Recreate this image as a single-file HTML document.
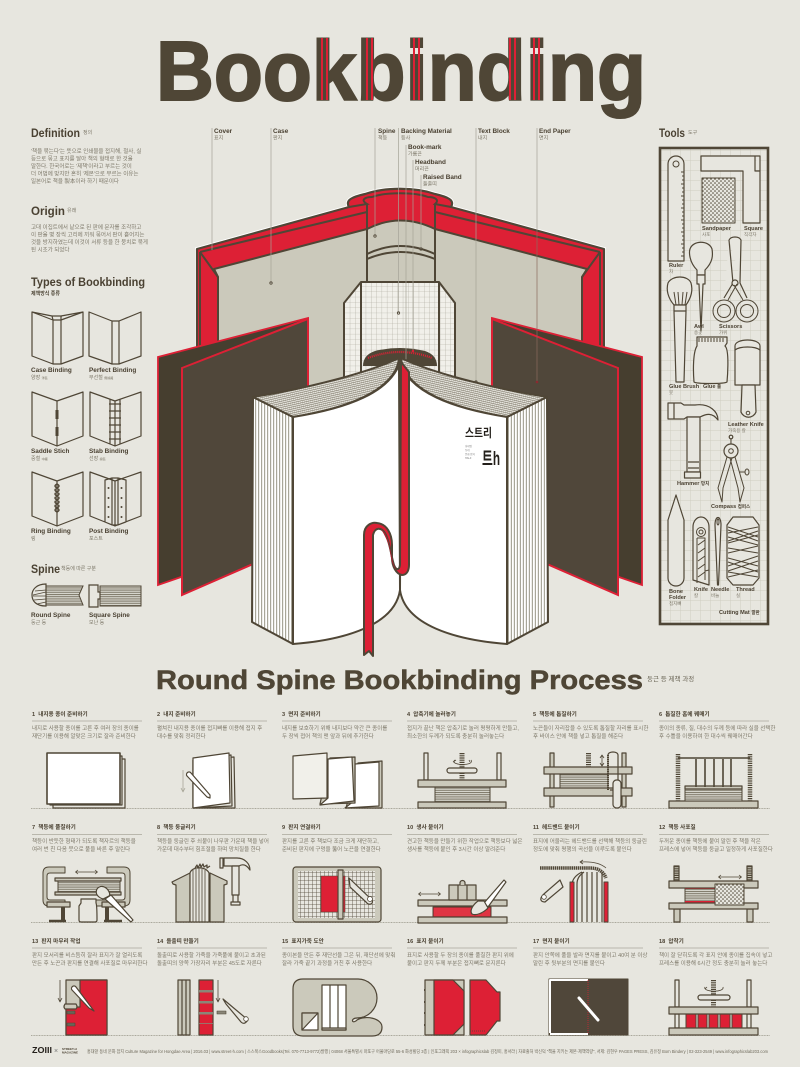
<!DOCTYPE html>
<html><head><meta charset="utf-8"><title>Bookbinding</title>
<style>
html,body{margin:0;padding:0;background:#e7e6df}
svg{display:block}
text{font-family:"Liberation Sans","Noto Sans CJK KR",sans-serif;fill:#4a4132}
.h{font-weight:700;font-size:12px}
.l{font-weight:700;font-size:6.4px}
.k{font-size:5px;fill:#7d7869}
.b{font-size:5.5px;fill:#7d7869}
.t{font-weight:700;font-size:5.6px;fill:#4a4132}
.s{stroke:#4f4636;stroke-width:1.2;fill:none}
.f{stroke:#4f4636;stroke-width:1.2;fill:#e7e6df}
.g{stroke:#4f4636;stroke-width:1.2;fill:#cbc9bb}
.w{stroke:#4f4636;stroke-width:1.2;fill:#fff}
.r{stroke:#4f4636;stroke-width:1.2;fill:#dd2035}
.d{fill:#4f4636;stroke:none}
.m{stroke:#4f4636;stroke-width:2;fill:none}
.u{stroke:#a9a799;stroke-width:.8;fill:none}
.ld{stroke:#a5a397;stroke-width:.7;fill:none}
.o{stroke:#4f4636;stroke-width:.8;fill:none}
</style></head><body>
<svg xmlns="http://www.w3.org/2000/svg" width="800" height="1067" viewBox="0 0 800 1067">
<defs>
<pattern id="fore" width="3" height="10" patternUnits="userSpaceOnUse"><rect width="3" height="10" fill="#fff"/><rect width="1.2" height="10" fill="#a8a699"/></pattern>
<pattern id="hatch" width="2" height="2" patternUnits="userSpaceOnUse" patternTransform="rotate(-13)"><rect width="2" height="2" fill="#e6e5de"/><rect width="2" height=".5" fill="#6d6656"/><rect width=".25" height="2" fill="#8a8474"/></pattern>
<pattern id="grid" width="5.3" height="5.3" patternUnits="userSpaceOnUse"><rect width="5.3" height="5.3" fill="#f1f0ea"/><path d="M0 0H5.3M0 0V5.3" stroke="#a9a79b" stroke-width=".6"/></pattern>
<pattern id="mat" width="10" height="10" patternUnits="userSpaceOnUse"><rect width="10" height="10" fill="#e7e6df"/><path d="M0 0H10M0 0V10" stroke="#cfcdc2" stroke-width="1"/></pattern>
<pattern id="dots" width="4" height="4" patternUnits="userSpaceOnUse"><rect width="4" height="4" fill="#e7e6df"/><circle cx="1" cy="1" r=".8" fill="#4f4636"/><circle cx="3" cy="3" r=".8" fill="#4f4636"/></pattern>
<pattern id="lines" width="4" height="2.2" patternUnits="userSpaceOnUse"><rect width="4" height="2.2" fill="#d9d8cf"/><rect width="4" height="1" fill="#7c7667"/></pattern>
<pattern id="mini" width="4" height="4" patternUnits="userSpaceOnUse"><rect width="4" height="4" fill="#e7e6df"/><path d="M0 0H4M0 0V4" stroke="#4f4636" stroke-width=".8"/></pattern>
<pattern id="redd" width="2" height="2" patternUnits="userSpaceOnUse"><rect width="2" height="2" fill="#dd2035"/><circle cx="1" cy="1" r=".45" fill="#e98"/></pattern>

<g id="leaves">
<path d="M158,357 L308,318 L308,500 L181,577 L158,585 Z" fill="#463e2f" stroke="#dd2035" stroke-width="1.8"/>
<path d="M182,368 L308,319 L308,540 L182,595 Z" fill="#50473a" stroke="#dd2035" stroke-width="2"/>
</g>
<g id="page">
<path d="M253,397 L293,417 L293,644 L252,622 Z" fill="url(#fore)" stroke="#4f4636" stroke-width="2" stroke-linejoin="round"/>
<path d="M253,397 C310,388 370,372 399,358 C398,372 385,402 293,417 Z" fill="url(#hatch)" stroke="#4f4636" stroke-width="2" stroke-linejoin="round"/>
<path d="M293,417 C350,408 388,392 399,365 L400,590 C395,625 345,640 293,644 Z" fill="#fff" stroke="#4f4636" stroke-width="2" stroke-linejoin="round"/>
</g>
</defs>

<rect width="800" height="1067" fill="#e7e6df"/>

<!-- TITLE -->
<text x="156" y="100" textLength="490" lengthAdjust="spacingAndGlyphs" style="font-size:84px;font-weight:700;stroke:#4f4636;stroke-width:2;fill:#4f4636">Bookbinding</text>
<g fill="#dd2035">
<rect x="321" y="38" width="2" height="62"/><rect x="326" y="38" width="2" height="62"/>
<rect x="366" y="38" width="2" height="62"/><rect x="371" y="38" width="2" height="62"/>
<rect x="413" y="38" width="2" height="62"/><rect x="418" y="38" width="2" height="62"/>
<rect x="509" y="38" width="2" height="62"/><rect x="514" y="38" width="2" height="62"/>
<rect x="533" y="38" width="2" height="62"/><rect x="538" y="38" width="2" height="62"/>
</g>

<!-- LEFT COLUMN -->
<text class="h" x="31" y="137" textLength="49" lengthAdjust="spacingAndGlyphs">Definition</text><text class="k" x="83" y="134">정의</text>
<g class="tx">
<text class="b" x="31" y="153">'책을 묶는다'는 뜻으로 인쇄물을 접지해, 철사, 실</text>
<text class="b" x="31" y="160.5">등으로 묶고 표지를 달아 책의 형태로 한 것을</text>
<text class="b" x="31" y="168">말한다. 한국어로는 '제책'이라고 부르는 것이</text>
<text class="b" x="31" y="175.5">더 어법에 맞지만 흔히 '제본'으로 부르는 이유는</text>
<text class="b" x="31" y="183">일본어로 책을 製本이라 하기 때문이다</text>
</g>
<text class="h" x="31" y="215" textLength="34" lengthAdjust="spacingAndGlyphs">Origin</text><text class="k" x="67" y="212">유래</text>
<text class="b" x="31" y="229">고대 이집트에서 낱으로 된 판에 문자를 조각하고</text>
<text class="b" x="31" y="236.5">이 판을 몇 장씩 고리에 끼워 묶어서 판이 흩어지는</text>
<text class="b" x="31" y="244">것을 방지하였는데 이것이 서류 등을 한 뭉치로 묶게</text>
<text class="b" x="31" y="251.5">된 시초가 되었다</text>
<text class="h" x="31" y="286" textLength="114" lengthAdjust="spacingAndGlyphs">Types of Bookbinding</text>
<text class="k" x="31" y="295" style="font-weight:700;fill:#4a4132">제책방식 종류</text>

<!-- binding types -->
<g class="s" stroke-linejoin="round">
<path d="M32,312 L53,320 V364 L32,356 Z M61,320 L83,312 V356 L61,364 Z M53,320 H61 V364 H53 Z M32,312 L52,316 L53,320 M83,312 L61,316 L61,320 M52,316 H62"/>
<path d="M89,312 L112,321 V364 L89,356 Z M119,321 L141,312 V356 L119,364 Z M112,321 H119 V364 H112 Z"/>
<path d="M32,392 L57,401 V446 L32,436 Z M57,401 L83,392 V436 L57,446 Z"/>
<path d="M90,392 L115,401 V446 L90,436 Z M115,401 L141,392 V436 L115,446 Z M110,399 V444 M120,399 V444 M109,404 H121 M109,411 H121 M109,418 H121 M109,425 H121 M109,432 H121 M109,439 H121"/>
<path d="M32,472 L57,481 V526 L32,516 Z M57,481 L83,472 V516 L57,526 Z"/>
<path d="M57,484 q-4,2 0,4 q4,2 0,4 q-4,2 0,4 q4,2 0,4 q-4,2 0,4 q4,2 0,4 q-4,2 0,4 M57,484 q4,2 0,4 q-4,2 0,4 q4,2 0,4 q-4,2 0,4 q4,2 0,4 q-4,2 0,4 q4,2 0,4" stroke-width="1.4"/>
<path d="M90,472 L115,481 V526 L90,516 Z M115,481 L141,472 V516 L115,526 Z M105,480 L112,478 V525 L105,522 Z M118,478 L126,480 V522 L118,525 Z M112,478 H118 V525 H112"/>
</g>
<g class="d"><rect x="55.5" y="410" width="3" height="9"/><rect x="55.5" y="427" width="3" height="9"/>
<circle cx="108.5" cy="488" r="1"/><circle cx="121.5" cy="488" r="1"/><circle cx="108.5" cy="498" r="1"/><circle cx="121.5" cy="498" r="1"/><circle cx="108.5" cy="507" r="1"/><circle cx="121.5" cy="507" r="1"/><circle cx="108.5" cy="517" r="1"/><circle cx="121.5" cy="517" r="1"/></g>
<text class="l" x="31" y="372">Case Binding</text><text class="k" x="31" y="379">양장 <tspan font-size="3">洋裝</tspan></text>
<text class="l" x="89" y="372">Perfect Binding</text><text class="k" x="89" y="379">무선철 <tspan font-size="3">無線綴</tspan></text>
<text class="l" x="31" y="453">Saddle Stich</text><text class="k" x="31" y="460">중철 <tspan font-size="3">中綴</tspan></text>
<text class="l" x="89" y="453">Stab Binding</text><text class="k" x="89" y="460">선장 <tspan font-size="3">線裝</tspan></text>
<text class="l" x="31" y="533">Ring Binding</text><text class="k" x="31" y="540">링</text>
<text class="l" x="89" y="533">Post Binding</text><text class="k" x="89" y="540">포스트</text>
<text class="h" x="31" y="573" textLength="29" lengthAdjust="spacingAndGlyphs">Spine</text><text class="k" x="61" y="570">책등에 따른 구분</text>
<!-- spines -->
<path d="M46,586 H83 L79,595 L83,605 H46 Z" fill="url(#lines)" stroke="#4f4636" stroke-width="1"/>
<path d="M46,584 C36,584 32,590 32,595 C32,601 36,606 46,606 Z" fill="#e7e6df" stroke="#4f4636" stroke-width="1.2"/>
<path class="o" d="M46,590 L35,591 M46,592 L33,595 M46,596 H33 M46,599 L34,600 M46,602 L37,604"/>
<path d="M100,586 H141 V606 H100 Z" fill="url(#lines)" stroke="#4f4636" stroke-width="1"/>
<path class="f" d="M89,585 H98 V592 H100 V599 H98 V607 H89 Z"/>
<text class="l" x="31" y="617">Round Spine</text><text class="k" x="31" y="624">둥근 등</text>
<text class="l" x="89" y="617">Square Spine</text><text class="k" x="89" y="624">모난 등</text>

<!-- MAIN BOOK: back case -->
<path d="M197,249 L349,207 C345,200 352,197 365,194 C385,187 415,187 435,194 C448,197 455,200 451,207 L604,249 V392 H197 Z" fill="none" stroke="#fff" stroke-width="4"/>
<path d="M197,249 L349,207 C345,200 352,197 365,194 C385,187 415,187 435,194 C448,197 455,200 451,207 L604,249 V392 H197 Z" fill="#dd2035" stroke="#4f4636" stroke-width="2.2" stroke-linejoin="round"/>
<path d="M218,392 V277 L214,269 L367,229 Q400,212 435,229 L587,269 L582,277 V392 Z" fill="#cbc9bb" stroke="#4f4636" stroke-width="2" stroke-linejoin="round"/>
<path class="m" d="M200,252 V392 M600,252 V392 M200,252 L367,212 M600,252 L435,212 M200,252 L218,277 M600,252 L582,277"/>
<path class="m" d="M349,207 L367,204 C360,200 365,197 372,197 C385,192 415,192 428,197 C435,197 440,200 435,204 L451,207"/>
<path class="m" d="M367,204 V282 M435,204 V282"/>
<path class="m" d="M367,254 Q400,238 435,254 M367,259 Q400,245 435,259"/>

<path d="M344,303 L361,282 H439 L455,303 V392 H344 Z" fill="url(#grid)" stroke="#4f4636" stroke-width="2" stroke-linejoin="round"/>
<path class="m" d="M361,282 V372 M439,282 V372"/>
<path d="M363,366 Q363,355 375,351 Q400,345 425,351 Q437,355 437,366 Z" fill="#4f4636"/>
<path d="M368,358 Q400,346 432,358" fill="none" stroke="#dd2035" stroke-width="2.2" stroke-dasharray="1 1"/>

<use href="#leaves"/>
<use href="#leaves" transform="translate(800,0) scale(-1,1)"/>

<!-- leaders -->
<g class="ld">
<path d="M212,128 V250 M271,128 V283 M375,128 V236 M398.5,128 V313 M406,145 V379 M413,160 V351 M421,175 V249 M476,128 V382"/>
<path d="M537,128 V230"/>
</g>
<path d="M537,230 V382" stroke="#8c6a5e" stroke-width=".7" fill="none"/>
<g fill="none" stroke="#4f4636" stroke-width=".8"><circle cx="271" cy="283" r="1.2"/><circle cx="375" cy="236" r="1.2"/><circle cx="398.5" cy="313" r="1.2"/><circle cx="421" cy="249" r="1.2"/><circle cx="476" cy="382" r="1.2"/></g>
<circle cx="537" cy="382" r="1.3" fill="#8a2a30"/><circle cx="413" cy="351" r="1.2" fill="#dd2035"/>

<!-- part labels -->
<text class="l" x="214" y="133">Cover</text><text class="k" x="214" y="139.5">표지</text>
<text class="l" x="273" y="133">Case</text><text class="k" x="273" y="139.5">판지</text>
<text class="l" x="378" y="133">Spine</text><text class="k" x="378" y="139.5">책등</text>
<text class="l" x="401" y="133">Backing Material</text><text class="k" x="401" y="139.5">등사</text>
<text class="l" x="408" y="149">Book-mark</text><text class="k" x="408" y="155.5">가름끈</text>
<text class="l" x="415" y="164">Headband</text><text class="k" x="415" y="170.5">머리끈</text>
<text class="l" x="423" y="179">Raised Band</text><text class="k" x="423" y="185.5">돌출띠</text>
<text class="l" x="478" y="133">Text Block</text><text class="k" x="478" y="139.5">내지</text>
<text class="l" x="539" y="133">End Paper</text><text class="k" x="539" y="139.5">면지</text>

<!-- text block -->
<use href="#page"/>
<use href="#page" transform="translate(800,0) scale(-1,1)"/>
<path d="M400,358 L400,590" stroke="#4f4636" stroke-width="2"/>
<!-- ribbon -->
<path d="M364,655 V535 C364,525 372,522 377,523 C387,524 392,534 392,545 V558 C392,566 396,574 402,575 C407,575 409,570 409,565 V372 L401,362 L400,565 C399,571 396,570 394,565 C391,556 390,542 385,533 C381,527 375,527 373,535 V656 L369,651 Z" fill="#dd2035" stroke="#4f4636" stroke-width="2" stroke-linejoin="round"/>
<path d="M385,533 C390,542 391,556 394,565 L396,570 C393,566 391,560 390,552 C389,543 385,536 381,529 Z" fill="#a82130"/>
<!-- logo on page -->
<text x="465" y="437" style="font-size:12px;font-weight:700;fill:#231f1a" textLength="27" lengthAdjust="spacingAndGlyphs">스트리</text>
<text x="482" y="465" style="font-size:19px;font-weight:700;fill:#231f1a" textLength="18" lengthAdjust="spacingAndGlyphs">트h</text>
<g style="font-size:2.5px"><text x="465" y="447" style="fill:#777">홍대앞</text><text x="465" y="451" style="fill:#777">동네</text><text x="465" y="455" style="fill:#777">문화 잡지</text><text x="465" y="459" style="fill:#777">HALF</text></g>

<!-- TOOLS -->
<text class="h" x="659" y="137" textLength="26" lengthAdjust="spacingAndGlyphs" style="font-size:12px">Tools</text><text class="k" x="688" y="134">도구</text>
<rect x="660" y="148" width="108" height="476" fill="url(#mat)" stroke="#4f4636" stroke-width="2.6"/>
<g class="s" stroke-linejoin="round" style="stroke-width:1">
<path class="f" d="M668,164 a8,8 0 0 1 16,0 V261 H668 Z"/><circle cx="676" cy="164" r="3"/>
<path d="M684,172 h-3 M684,176 h-2 M684,180 h-2 M684,184 h-3 M684,188 h-2 M684,192 h-2 M684,196 h-3 M684,200 h-2 M684,204 h-2 M684,208 h-3 M684,212 h-2 M684,216 h-2 M684,220 h-3 M684,224 h-2 M684,228 h-2 M684,232 h-3 M684,236 h-2 M684,240 h-2 M684,244 h-3 M684,248 h-2 M684,252 h-2 M684,256 h-3"/>
<path class="f" d="M701,156 H760 V223 H743 V171 H701 Z M755,156 V171 H760"/>
<rect x="702" y="178" width="33" height="45" fill="url(#dots)"/>
<path class="f" d="M697,275 V270 C689,262 689,252 690,249 C693,240 709,240 712,249 C713,255 713,262 705,270 V275 Z"/>
<path class="f" d="M697,275 H705 V284 H703 L701,331 L699,284 H697 Z"/>
<path class="f" d="M729,240 C731,236 739,236 741,240 L740,283 L747,298 M729,240 L733,283 L724,298"/>
<circle class="f" cx="735" cy="283" r="3"/>
<circle cx="724" cy="311" r="11"/><circle cx="724" cy="311" r="6.5"/><circle cx="747" cy="311" r="11"/><circle cx="747" cy="311" r="6.5"/>
<path d="M728,300 L737,284 M743,300 L734,285"/>
<path class="f" d="M674,305 C668,298 666,290 668,283 C672,275 688,275 691,283 C693,290 691,298 686,305 Z"/>
<path d="M676,305 L674,292 M679,305 L678,292 M682,305 L683,292 M685,305 L687,292"/>
<path class="f" d="M674,305 H686 V311 L684,382 H676 L674,311 Z M674,311 H686"/>
<path class="f" d="M697,343 V337 H727 V343 L725,346 C730,350 727,382 727,382 C724,384 697,384 694,382 C693,370 693,352 697,346 Z"/>
<path d="M699,338 V342 M702,338 V342 M705,338 V342 M708,338 V342 M711,338 V342 M714,338 V342 M717,338 V342 M720,338 V342 M723,338 V342"/>
<path class="f" d="M735,385 V346 C735,338 760,338 760,346 V385 Z M735,350 C740,346 755,346 760,350"/>
<path class="f" d="M742,385 H755 L756,412 A8,8 0 0 1 741,412 Z"/><circle cx="748" cy="413" r="1.8"/>
<path class="f" d="M668,403 H681 L684,405 H695 C710,403 718,412 718,420 C712,412 706,414 700,417 H687 L684,419 H668 Z M674,403 V419"/>
<path class="f" d="M687,417 H700 V472 H687 Z M688,462 H699 M688,468 H699"/>
<rect class="f" x="684.500" y="472" width="16" height="6"/>
<circle class="f" cx="731" cy="437" r="1.8"/><path d="M731,439 V444"/>
<circle class="f" cx="731" cy="451" r="7"/><circle cx="731" cy="451" r="2.3"/>
<path d="M727,457 L718,488 L722,502 L723,488 L732,458 M735,457 L744,488 L740,502 L738,488 L730,458"/>
<path d="M739,472 H745"/><ellipse cx="747" cy="472" rx="2" ry="3"/>
<path class="f" d="M668,520 L676,495 L684,520 V578 A8,8 0 0 1 668,578 Z"/>
<path class="f" d="M693,527 a8,10 0 0 1 16,0 V585 L693,580 Z"/>
<circle cx="701" cy="532" r="4.5"/><circle cx="701" cy="532" r="2"/>
<path d="M697,538 H705 V580 M697,538 V583 M698,545 L705,540 M698,553 L705,548 M698,561 L705,556 M698,569 L705,564 M698,577 L705,572 M705,571 L709,570"/>
<path class="f" d="M715,525 C715,515 721,515 721,525 L718.500,585 H717.500 Z"/><ellipse cx="718" cy="522" rx="1" ry="3"/>
<path class="f" d="M733,517 H753 L759,525 V578 L753,585 H733 L727,578 V525 Z"/>
<path d="M728,527 L758,537 M728,533 L758,527 M728,537 L758,545 M728,543 L758,535 M728,548 L758,553 M728,553 L758,546 M728,558 L758,566 M728,566 L758,556 M728,572 L758,577 M728,577 L758,570 M728,530 L758,541 M728,541 L758,531 M728,562 L758,572 M728,571 L758,561"/>
</g>
<g>
<text class="t" x="702" y="230">Sandpaper</text><text class="k" x="702" y="236" style="font-size:4.5px">사포</text>
<text class="t" x="744" y="230">Square</text><text class="k" x="744" y="236" style="font-size:4.5px">직각자</text>
<text class="t" x="669" y="267">Ruler</text><text class="k" x="669" y="273" style="font-size:4.5px">자</text>
<text class="t" x="694" y="328">Awl</text><text class="k" x="694" y="334" style="font-size:4.5px">송곳</text>
<text class="t" x="719" y="328">Scissors</text><text class="k" x="719" y="334" style="font-size:4.5px">가위</text>
<text class="t" x="669" y="388">Glue Brush</text><text class="k" x="669" y="394" style="font-size:4.5px">붓</text>
<text class="t" x="703" y="388">Glue <tspan font-size="4.5">풀</tspan></text>
<text class="t" x="728" y="426">Leather Knife</text><text class="k" x="728" y="432" style="font-size:4.5px">가죽용 칼</text>
<text class="t" x="677" y="485">Hammer <tspan font-size="4.500">망치</tspan></text>
<text class="t" x="711" y="508">Compass <tspan font-size="4.500">컴퍼스</tspan></text>
<text class="t" x="669" y="593">Bone</text><text class="t" x="669" y="599">Folder</text><text class="k" x="669" y="605" style="font-size:4.5px">접지뼈</text>
<text class="t" x="694" y="591">Knife</text><text class="k" x="694" y="597" style="font-size:4.5px">칼</text>
<text class="t" x="711" y="591">Needle</text><text class="k" x="711" y="597" style="font-size:4.5px">바늘</text>
<text class="t" x="736" y="591">Thread</text><text class="k" x="736" y="597" style="font-size:4.5px">실</text>
<text class="t" x="719" y="614">Cutting Mat <tspan font-size="4.500">깔판</tspan></text>
</g>

<!-- PROCESS HEADING -->
<text x="156" y="689" textLength="487" lengthAdjust="spacingAndGlyphs" style="font-size:27px;font-weight:700;fill:#4f4636;stroke:#4f4636;stroke-width:.5">Round Spine Bookbinding Process</text>
<text x="647" y="681" style="font-size:6.5px;fill:#6e695a">둥근 등 제책 과정</text>

<!-- STEP TEXT -->
<g id="steps">
<g stroke="#aaa89c" stroke-width=".8">
<path d="M32,721H142M157,721H267M282,721H392M407,721H517M533,721H643M659,721H769"/>
<path d="M32,834.500H142M157,834.500H267M282,834.500H392M407,834.500H517M533,834.500H643M659,834.500H769"/>
<path d="M32,948H142M157,948H267M282,948H392M407,948H517M533,948H643M659,948H769"/>
</g>
<path d="M31,808.500H770M31,922.500H770M31,1035.500H770" stroke="#aaa89c" stroke-width="1" stroke-dasharray="1 .6"/>

<text class="t" x="32" y="716">1 &nbsp;내지용 종이 준비하기</text>
<text class="b" x="32" y="730">내지로 사용할 종이를 고른 후 여러 장의 종이를</text>
<text class="b" x="32" y="738">재단기를 이용해 알맞은 크기로 잘라 준비한다</text>
<text class="t" x="157" y="716">2 &nbsp;내지 준비하기</text>
<text class="b" x="157" y="730">펼쳐진 내지용 종이를 접지뼈를 이용해 접지 후</text>
<text class="b" x="157" y="738">대수를 맞춰 정리한다</text>
<text class="t" x="282" y="716">3 &nbsp;면지 준비하기</text>
<text class="b" x="282" y="730">내지를 보호하기 위해 내지보다 약간 큰 종이를</text>
<text class="b" x="282" y="738">두 장씩 접어 책의 맨 앞과 뒤에 추가한다</text>
<text class="t" x="407" y="716">4 &nbsp;압축기에 눌러놓기</text>
<text class="b" x="407" y="730">접지가 끝난 책은 압축기로 눌러 평평하게 만들고,</text>
<text class="b" x="407" y="738">최소한의 두께가 되도록 충분히 눌러놓는다</text>
<text class="t" x="533" y="716">5 &nbsp;책등에 톱질하기</text>
<text class="b" x="533" y="730">노끈들이 자리잡을 수 있도록 톱질할 자리를 표시한</text>
<text class="b" x="533" y="738">후 바이스 안에 책을 넣고 톱질을 해준다</text>
<text class="t" x="659" y="716">6 &nbsp;톱질한 홈에 꿰매기</text>
<text class="b" x="659" y="730">종이의 종류, 질, 대수의 두께 등에 따라 실을 선택한</text>
<text class="b" x="659" y="738">후 수틀을 이용하여 한 대수씩 꿰매어간다</text>

<text class="t" x="32" y="829">7 &nbsp;책등에 풀칠하기</text>
<text class="b" x="32" y="843">책등이 반듯한 형태가 되도록 책자르의 책등을</text>
<text class="b" x="32" y="851">여러 번 친 다음 붓으로 풀을 바른 후 말린다</text>
<text class="t" x="157" y="829">8 &nbsp;책등 둥글리기</text>
<text class="b" x="157" y="843">책등을 둥글린 후 쇠붙이 나무판 가운데 책을 넣어</text>
<text class="b" x="157" y="851">가운데 대수부터 힘조절을 하며 망치질을 한다</text>
<text class="t" x="282" y="829">9 &nbsp;판지 연결하기</text>
<text class="b" x="282" y="843">판지를 고른 후 책보다 조금 크게 재단하고,</text>
<text class="b" x="282" y="851">준비된 판지에 구멍을 뚫어 노끈을 연결한다</text>
<text class="t" x="407" y="829">10 &nbsp;생사 붙이기</text>
<text class="b" x="407" y="843">견고한 책등을 만들기 위한 작업으로 책등보다 넓은</text>
<text class="b" x="407" y="851">생사를 책등에 붙인 후 3시간 이상 말려준다</text>
<text class="t" x="533" y="829">11 &nbsp;헤드밴드 붙이기</text>
<text class="b" x="533" y="843">표지에 어울리는 헤드밴드를 선택해 책등의 둥글린</text>
<text class="b" x="533" y="851">정도에 맞춰 평행의 곡선을 이루도록 붙인다</text>
<text class="t" x="659" y="829">12 &nbsp;책등 사포질</text>
<text class="b" x="659" y="843">두꺼운 종이를 책등에 붙여 말린 후 책을 작은</text>
<text class="b" x="659" y="851">프레스에 넣어 책등을 둥글고 일정하게 사포질한다</text>

<text class="t" x="32" y="943">13 &nbsp;판지 마무리 작업</text>
<text class="b" x="32" y="957">판지 모서리를 비스듬히 잘라 표지가 잘 열리도록</text>
<text class="b" x="32" y="965">만든 후 노끈과 판지를 연결해 사포질로 마무리한다</text>
<text class="t" x="157" y="943">14 &nbsp;돌출띠 만들기</text>
<text class="b" x="157" y="957">돌출띠로 사용할 가죽을 가죽풀에 붙이고 초과된</text>
<text class="b" x="157" y="965">돌출띠의 양쪽 가장자리 부분은 45도로 자른다</text>
<text class="t" x="282" y="943">15 &nbsp;표지가죽 도안</text>
<text class="b" x="282" y="957">종이본을 만든 후 재단선을 그은 뒤, 재단선에 맞춰</text>
<text class="b" x="282" y="965">잘라 가죽 끝기 과정을 거친 후 사용한다</text>
<text class="t" x="407" y="943">16 &nbsp;표지 붙이기</text>
<text class="b" x="407" y="957">표지로 사용할 두 장의 종이를 풀칠한 판지 위에</text>
<text class="b" x="407" y="965">붙이고 판지 두께 부분은 접지뼈로 문지른다</text>
<text class="t" x="533" y="943">17 &nbsp;면지 붙이기</text>
<text class="b" x="533" y="957">판지 안쪽에 풀을 발라 면지를 붙이고 40여 분 이상</text>
<text class="b" x="533" y="965">말린 후 뒷부분의 면지를 붙인다</text>
<text class="t" x="659" y="943">18 &nbsp;압착기</text>
<text class="b" x="659" y="957">책이 잘 닫히도록 각 표지 안에 종이를 집속이 넣고</text>
<text class="b" x="659" y="965">프레스를 이용해 6시간 정도 충분히 눌러 놓는다</text>
</g>

<!-- STEP ILLUSTRATIONS -->
<g stroke-linejoin="round">
<!-- 1 -->
<rect class="f" x="53" y="759" width="72" height="49"/><rect class="f" x="50" y="756" width="72" height="49"/><rect class="w" x="47" y="753" width="73" height="51" style="stroke-width:1.6"/>
<!-- 2 -->
<path class="f" d="M193,760 L234,757 L235,808 L193,808 Z"/><path class="f" d="M193,760 L231,755 L232,806 L193,808 Z"/>
<path class="w" d="M193,758 L229,753 L230,803 L193,808 Z"/>
<path class="u" d="M183,770 V792 M181,788 L183,792 L185,788"/>
<path class="w" d="M187,776 a2.500,2.500 0 0 1 4,-3 L210,795 L210,798 L207,797 Z"/>
<!-- 3 -->
<path class="g" d="M358,763 L382,761 L382,808 L346,808 Z"/><path class="w" d="M355,764 L379,762 L379,806 L345,808 L355,800 Z"/>
<path class="g" d="M330,758 L355,757 L355,803 L320,804 Z"/><path class="w" d="M328,759 L352,757 L354,801 L320,805 L328,798 Z"/>
<path class="w" d="M293,756 L327,753 V798 L293,799 Z" style="fill:#f1f0ea"/>
<!-- 4 -->
<g>
<rect class="f" x="424" y="753" width="4" height="27"/><rect class="f" x="497" y="753" width="4" height="27"/>
<rect class="g" x="418" y="780" width="88" height="7"/><rect x="435" y="787" width="55" height="15" fill="url(#lines)" stroke="#4f4636"/>
<rect class="g" x="418" y="802" width="88" height="6"/>
<line x1="462" y1="753" x2="462" y2="780" stroke="#4f4636" stroke-width="5" stroke-dasharray="1.2 1"/>
<rect class="f" x="447" y="768" width="30" height="5" rx="2.500"/>
<path class="u" style="stroke:#4f4636" d="M455,760 C448,765 475,767 471,760"/>
<path class="o" d="M453,762 l3,-2 M470,762 l-1,-2"/>
</g>
<!-- 5 -->
<rect class="g" x="550" y="753" width="4" height="54"/><rect class="g" x="622" y="753" width="4" height="54"/>
<line x1="588.500" y1="753" x2="588.500" y2="767" stroke="#4f4636" stroke-width="5" stroke-dasharray="1.2 1"/>
<rect x="560" y="774" width="48" height="14" fill="url(#lines)" stroke="#4f4636"/>
<rect class="g" x="544" y="767" width="88" height="7"/><rect class="g" x="544" y="788" width="88" height="8"/>
<path class="o" d="M602,756 V765 M600,758 L602,755 L604,758 M600,763 L602,766 L604,763"/>
<path class="s" d="M608,790 V755 C608,751 618,751 618,755 V790 H610"/>
<path class="o" d="M608,755 V790" stroke-dasharray="1 1" style="stroke-width:2"/>
<rect class="f" x="613" y="780" width="8" height="28" rx="3.500"/>
<!-- 6 -->
<rect class="g" x="669" y="801" width="89" height="7"/>
<rect x="685" y="787" width="57" height="14" fill="url(#lines)" stroke="#4f4636"/>
<rect class="g" x="685" y="786" width="57" height="3"/>
<path class="s" d="M678,758 H750 M696,759 V787 M705,759 V787 M714,759 V787 M723,759 V787 M731,759 V787" style="stroke-width:1.6"/>
<line x1="678" y1="754" x2="678" y2="801" stroke="#4f4636" stroke-width="4.500" stroke-dasharray="1.2 1"/><line x1="750" y1="754" x2="750" y2="801" stroke="#4f4636" stroke-width="4.500" stroke-dasharray="1.2 1"/>
<!-- 7 -->
<path d="M65,906 H49 Q43,906 43,900 V873 Q43,867 49,867 H65 V873 H50 Q47,873 47,876 V897 Q47,900 50,900 H65 Z" fill="#cbc9bb" stroke="#4f4636"/>
<path d="M96,906 H124 Q130,906 130,900 V873 Q130,867 124,867 H107 V873 H122 Q125,873 125,876 V897 Q125,900 122,900 H96 Z" fill="#cbc9bb" stroke="#4f4636"/>
<rect x="58" y="880" width="62" height="13" fill="url(#lines)" stroke="#4f4636"/>
<rect class="g" x="55" y="878" width="66" height="3"/><rect class="g" x="55" y="892" width="66" height="3"/>
<rect class="g" x="47" y="902" width="23" height="5"/><rect class="g" x="102" y="902" width="23" height="5"/>
<path class="d" d="M61,907 h4 v13 h-4 Z M105,907 h4 v13 h-4 Z"/>
<path class="s" d="M49,921 H66 M104,921 H122" style="stroke-width:2.500"/>
<path class="o" d="M76,872 H97 M78,870 L75.500,872 L78,874 M95,870 L97.500,872 L95,874"/>
<path class="f" d="M81,903 V899 H96 V903 C97,905 97,920 97,920 Q97,922 95,922 H81 Q79,922 79,920 V906 Z"/>
<path class="w" d="M111,895 L133,920 L131,922 L105,899 Z"/>
<path class="f" d="M103,899 C97,897 95,893 97,889 C100,885 105,886 108,890 C110,893 110,895 109,896 Z"/>
<!-- 8 -->
<path class="g" d="M176,922 V885 L173,884 L172,882 L190,873 V922 Z M224,922 V885 L227,884 L227,881 L210,873 V922 Z"/>
<path class="f" d="M190,922 V873 C192,866 206,866 209,873 V922 Z"/>
<path class="o" d="M193,922 V870 M196,922 V869 M199,922 V868 M202,922 V869 M205,922 V870"/>
<path class="s" d="M195,868 l2,-3 l1,3 l2,-4 l1,3 l2,-3 l1,3 l3,-2 l0,3 l3,-2" />
<rect class="f" x="220" y="858" width="3" height="10"/><path class="f" d="M224,858 H237 C245,858 250,864 250,870 C246,864 242,864 239,866 H224 Z"/>
<path class="f" d="M232,866 H239 V895 H232 Z M233,895 H238 V903 H233 Z"/><rect class="f" x="231" y="902" width="9" height="3"/>
<!-- 9 -->
<rect class="g" x="293" y="867" width="88" height="55" rx="3"/>
<rect x="298" y="871" width="77" height="47" fill="url(#mini)"/>
<rect x="321" y="876" width="24" height="36" fill="#dd2035" stroke="#4f4636" stroke-width=".6"/>
<rect class="g" x="338" y="870" width="5" height="49"/>
<path class="f" d="M349,878 L372,900 C374,904 369,906 366,902 L350,887 Z"/>
<circle class="w" cx="370" cy="899" r="2.500" style="stroke-width:.8"/>
<!-- 10 -->
<rect x="433" y="907" width="58" height="10" fill="url(#redd)" stroke="#4f4636"/>
<rect class="g" x="418" y="900" width="89" height="6"/><rect class="g" x="418" y="917" width="89" height="6"/>
<path class="g" d="M449,885 H476 V900 H449 Z M458,885 V900 M467,885 V900"/><path class="g" d="M460,885 v-2 a2.500,2.500 0 0 1 5,0 v2"/>
<path class="o" d="M419,894 H440 M421,892 L418.500,894 L421,896 M438,892 L440.500,894 L438,896"/>
<path class="w" d="M484,903 L504,880 L506,882 L488,907 Z"/>
<path class="f" d="M488,908 C483,913 476,916 472,914 C469,910 474,904 478,901 L484,901 Z"/>
<!-- 11 -->
<path class="s" d="M572,922 V885 C572,878 578,874 582,872 M577,922 V884 C577,878 580,875 584,872 M582,922 V872 M587,922 V872 M592,922 V872 M597,922 V872 M602,922 V872 M606,922 V882"/>
<rect x="570" y="882" width="4" height="40" fill="#dd2035" stroke="#4f4636"/><rect x="604" y="882" width="4" height="40" fill="#dd2035" stroke="#4f4636"/>
<path d="M540,868 H590 Q602,868 606,878" stroke="#4f4636" stroke-width="3.500" stroke-dasharray="1.500 .6" fill="none"/>
<path class="o" d="M581,862 Q598,861 606,868 M583,860 L580,862 L583,864"/>
<path class="f" d="M560,880 L545,893 C538,899 541,902 545,902 L563,887 Z"/>
<circle class="w" cx="544" cy="897" r="2.300" style="stroke-width:.8"/>
<!-- 12 -->
<rect class="g" x="674" y="866" width="5" height="15" /><rect class="g" x="747" y="866" width="5" height="15"/>
<line x1="676.500" y1="866" x2="676.500" y2="881" stroke="#4f4636" stroke-width="5" stroke-dasharray="1.200 1"/><line x1="749.500" y1="866" x2="749.500" y2="881" stroke="#4f4636" stroke-width="5" stroke-dasharray="1.200 1"/>
<rect class="g" x="674" y="909" width="6" height="13"/><rect class="g" x="747" y="909" width="6" height="13"/>
<rect x="685" y="888" width="32" height="15" fill="url(#lines)" stroke="#4f4636"/>
<rect x="685" y="887" width="32" height="2" fill="#dd2035"/><rect x="685" y="901" width="32" height="2" fill="#dd2035"/>
<rect class="g" x="669" y="881" width="89" height="7"/><rect class="g" x="669" y="903" width="89" height="6"/>
<rect x="715" y="884" width="29" height="21" fill="url(#dots)" stroke="#4f4636"/>
<path class="o" d="M719,877 H741 M721,875 L718.500,877 L721,879 M739,875 L741.500,877 L739,879"/>
<!-- 13 -->
<rect class="g" x="66" y="980" width="41" height="55"/>
<path class="r" d="M80,980 H107 V1035 H66 V1007 H80 Z"/>
<path class="o" d="M60,980 V1002 M58,998 L60,1002 L62,998"/>
<path class="w" d="M72,990 a2.500,2.500 0 0 1 4,-3 L94,1011 L89,1008 Z"/>
<path class="g" d="M65,1004 H76 Q78,1007 76,1009 H65 Q63,1007 65,1004 Z"/>
<rect x="67" y="1011" width="8" height="3" fill="#6a6557" stroke="#4f4636" stroke-width=".6"/><rect x="67" y="1023" width="8" height="3" fill="#6a6557" stroke="#4f4636" stroke-width=".6"/>
<!-- 14 -->
<path class="g" d="M178,980 H190 V1035 H178 Z M182,980 V1035 M186,980 V1035" />
<rect class="r" x="199" y="980" width="14" height="55"/>
<g fill="#8a8678"><rect x="199" y="990" width="14" height="2.500"/><rect x="199" y="1001" width="14" height="2.500"/><rect x="199" y="1012" width="14" height="2.500"/><rect x="199" y="1023" width="14" height=".8"/></g>
<path class="o" d="M218,980 V1002 M216,998 L218,1002 L220,998"/>
<rect x="217" y="1011" width="9" height="3" fill="#8a8678" stroke="#4f4636" stroke-width=".6"/>
<path class="f" d="M223,999 L248,1020 C245,1024 243,1024 241,1022 L226,1004 Z"/>
<circle class="w" cx="246" cy="1019" r="2.300" style="stroke-width:.8"/>
<!-- 15 -->
<path class="g" d="M303,979 H357 A19,19 0 0 1 377,998 A20,20 0 0 1 357,1018 C350,1018 352,1025 357,1020 C365,1015 382,1018 382,1027 Q382,1036 372,1036 H303 Q293,1036 293,1026 V989 Q293,979 303,979 Z"/>
<rect class="w" x="322" y="985" width="24" height="45"/><path class="s" d="M330,985 V1030 M338,985 V1030"/>
<path class="g" d="M322,1030 H346 V1028 H322 Z"/>
<rect class="w" x="302" y="1013" width="16" height="17"/><path class="g" d="M302,1013 H318 L302,1030 Z"/>
<!-- 16 -->
<rect class="g" x="425" y="980" width="39" height="55"/>
<path class="r" d="M434,980 H453 L464,991 V1024 L453,1035 H434 Z"/>
<path class="d" d="M424,989 h1 v2 h-1 Z M424,1001 h1 v2 h-1 Z M424,1012 h1 v2 h-1 Z M424,1024 h1 v2 h-1 Z"/>
<path class="r" d="M470,980 H486 L497,992 H500 V1021 H497 L486,1035 H470 Z"/>
<path class="o" d="M470,1031 H486" stroke-dasharray="1 1" style="stroke:#4f4636"/>
<!-- 17 -->
<rect x="549" y="979" width="79" height="56" fill="#50473a" stroke="#4f4636"/>
<path d="M550,1033 V980 H588" fill="none" stroke="#fff" stroke-width="2"/>
<path d="M550,1034 H588" fill="none" stroke="#fff" stroke-width="2"/>
<path d="M588,980 V1034" stroke="#dd2035" stroke-width=".7" stroke-dasharray="1 1"/>
<path d="M579,998 L598,1020" stroke="#fff" stroke-width="3" stroke-linecap="round"/>
<!-- 18 -->
<rect class="f" x="675" y="980" width="4" height="27"/><rect class="f" x="747" y="980" width="4" height="27"/>
<rect class="f" x="675" y="1014" width="4" height="14"/><rect class="f" x="747" y="1014" width="4" height="14"/>
<g fill="#dd2035" stroke="#4f4636"><rect x="686" y="1014" width="10" height="14"/><rect x="698" y="1014" width="9" height="14"/><rect x="709" y="1014" width="9" height="14"/><rect x="720" y="1014" width="10" height="14"/><rect x="732" y="1014" width="10" height="14"/></g>
<rect class="g" x="669" y="1007" width="89" height="7"/><rect class="g" x="669" y="1028" width="89" height="7"/>
<line x1="713.500" y1="980" x2="713.500" y2="1007" stroke="#4f4636" stroke-width="5" stroke-dasharray="1.200 1"/>
<rect class="f" x="698" y="995" width="32" height="5" rx="2.500"/>
<path class="o" d="M705,987 C702,992 725,993 723,987 M705,989 l2,-2"/>
</g>

<!-- FOOTER -->
<text x="32" y="1053" style="font-size:8px;font-weight:700;fill:#231f1a" textLength="20" lengthAdjust="spacingAndGlyphs">ZOIII</text>
<text x="54" y="1053" style="font-size:7px;fill:#777">×</text>
<text x="62" y="1050" style="font-size:3px;font-weight:700;fill:#4a4132">STREET-H</text>
<text x="62" y="1053.500" style="font-size:3px;font-weight:700;fill:#4a4132">MAGAZINE</text>
<text x="87" y="1053" textLength="681" lengthAdjust="spacingAndGlyphs" style="font-size:4.6px;fill:#6e695a">홍대앞 동네 문화 잡지 Culture Magazine for Hongdae Area | 2016.03 | www.street-h.com | 스스북스Goodbooks(Tel. 070-7713-9772)발행 | 04068 서울특별시 마포구 어울마당로 55-6 화성빌딩 3층 | 인포그래픽 203 × infographicslab 김정미, 홍서라 | 자료출처 박신덕 "책을 지키는 제본·제책역량", 서제: 김현우 PAGES PRESS, 김유정 Born Bindery | 02-323-2549 | www.infographicslab203.com</text>
</svg>
</body></html>
